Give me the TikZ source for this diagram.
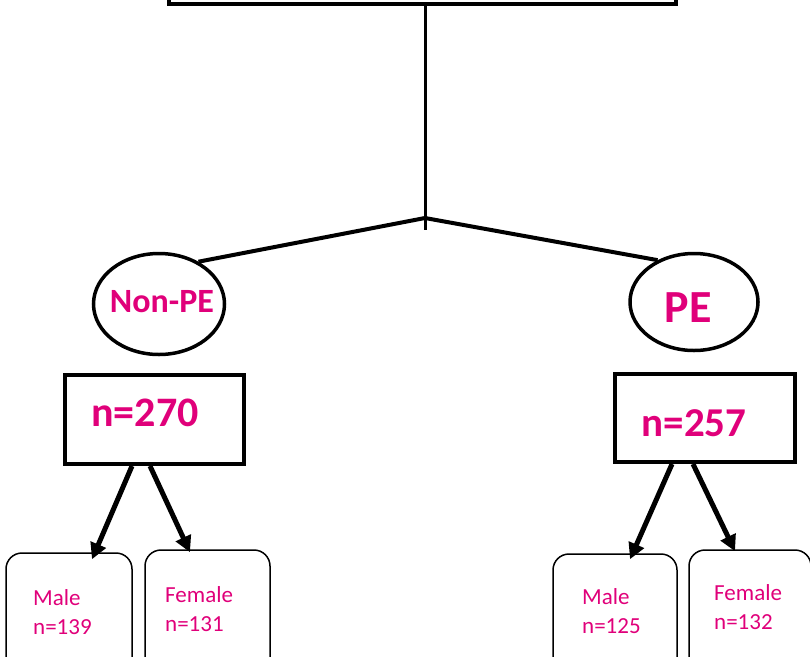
\documentclass[tikz,border=0pt]{standalone}
\usepackage{fontspec}
\setmainfont{Carlito}
\usetikzlibrary{arrows.meta,shapes.geometric}
\definecolor{pe}{RGB}{224,0,122}
\begin{document}
\begin{tikzpicture}[x=1pt,y=-1pt,
 thickbox/.style={draw, line width=4pt, rectangle, inner sep=0},
 oval/.style={draw, ellipse, line width=3.5pt, inner sep=0},
 leaf/.style={draw, rounded corners=16pt, line width=1.5pt, inner sep=0},
 lbl/.style={text=pe, inner sep=0, anchor=center},
 small/.style={text=pe, font=\fontsize{23}{29}\selectfont, align=left, anchor=west, inner sep=0},
 conn/.style={line width=4pt},
 arr/.style={line width=5pt, -{Triangle[length=16pt,width=16pt]}}]
\useasboundingbox (0,0) rectangle (810,656);
\clip (0,0) rectangle (810,656);

% top box (cut off at the top)
\node[thickbox, minimum width=507pt, minimum height=60pt] (top) at (422.5,-26) {};
\coordinate (j) at (425,218);
\coordinate (jend) at (425,230);
\draw[line width=3pt] (j |- top.south) -- (jend);

% ellipses
\node[oval, minimum width=131pt, minimum height=101pt] (nonpe) at (159,304) {};
\node[oval, minimum width=128pt, minimum height=97pt] (pe) at (694,302) {};
\node[lbl, font=\fontsize{34}{40}\selectfont\bfseries] (tnonpe) at (162,302) {Non-PE};
\node[lbl, font=\fontsize{46}{50}\selectfont\bfseries] (tpe) at (688,308) {PE};

\draw[conn] (j) -- (nonpe.47);
\draw[conn] (j) -- (pe.131);

% count boxes
\node[thickbox, minimum width=179pt, minimum height=89pt] (b270) at (154.5,419.5) {};
\node[thickbox, minimum width=180pt, minimum height=88pt] (b257) at (705,418) {};
\node[lbl, font=\fontsize{42}{46}\selectfont\bfseries] (t270) at (145,413) {n=270};
\node[lbl, font=\fontsize{41}{46}\selectfont\bfseries] (t257) at (694,423) {n=257};

% leaf boxes
\node[leaf, minimum width=126pt, minimum height=147pt] (maleL) at (69,626.5) {};
\node[leaf, minimum width=125pt, minimum height=150pt] (femL) at (207.5,625) {};
\node[leaf, minimum width=124pt, minimum height=146pt] (maleR) at (615,627) {};
\node[leaf, minimum width=122pt, minimum height=150pt] (femR) at (750,625) {};

\node[small] (tmaleL) at (33,612) {Male\\n=139};
\node[small] (tfemL) at (165,609) {Female\\n=131};
\node[small] (tmaleR) at (582,611) {Male\\n=125};
\node[small] (tfemR) at (714,607.5) {Female\\n=132};

% arrows
\draw[arr] ([xshift=-22.5pt]b270.south) -- ([xshift=23pt,yshift=-7pt]maleL.north);
\draw[arr] ([xshift=-4.5pt]b270.south) -- ([xshift=-17.5pt,yshift=-3pt]femL.north);
\draw[arr] ([xshift=-33pt]b257.south) -- ([xshift=15pt,yshift=-6pt]maleR.north);
\draw[arr] ([xshift=-12pt]b257.south) -- ([xshift=-15pt,yshift=-2pt]femR.north);
\end{tikzpicture}
\end{document}
